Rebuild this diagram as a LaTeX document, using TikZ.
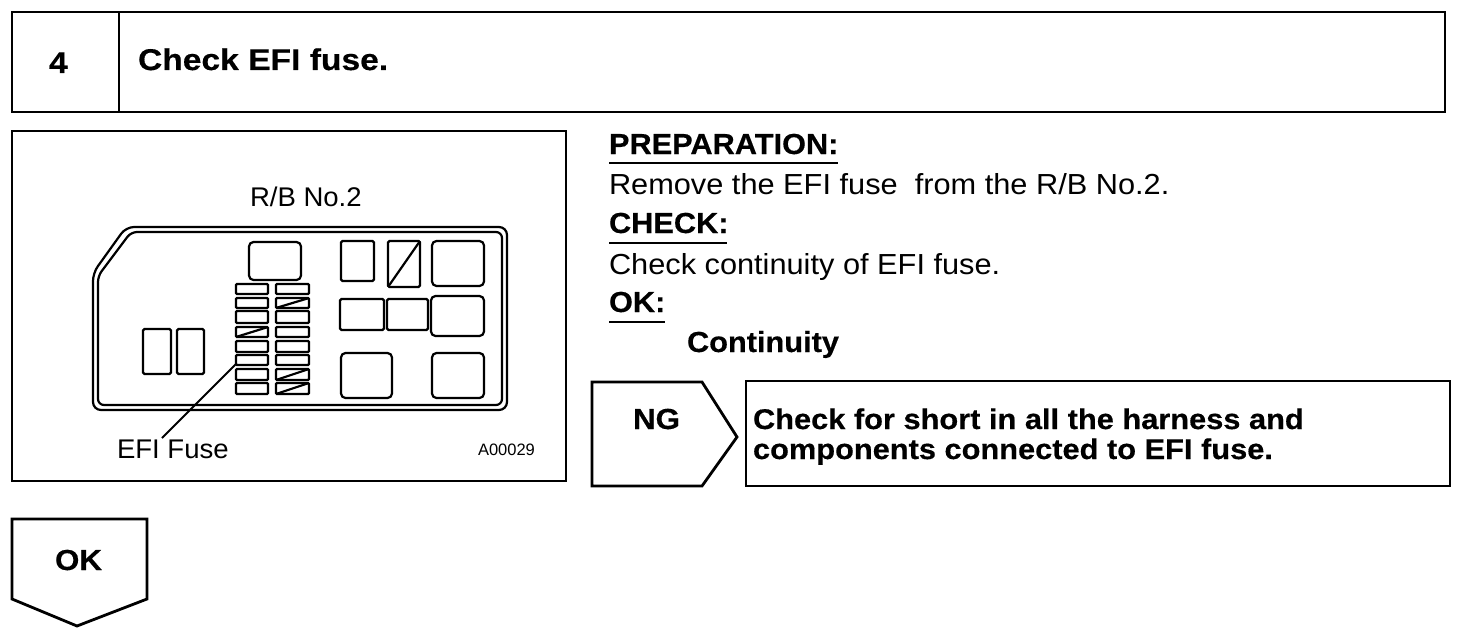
\documentclass[tikz,border=0pt]{standalone}
\usepackage{fontspec}
\setmainfont{Liberation Sans}
\newfontfamily\stA[FakeStretch=1.12,FakeBold=0.4]{Liberation Sans}
\newfontfamily\stB[FakeStretch=1.08,FakeBold=0.4]{Liberation Sans}
\newfontfamily\stC[FakeStretch=1.06,FakeBold=0.4]{Liberation Sans}
\newfontfamily\stD[FakeStretch=1.06]{Liberation Sans}
\newfontfamily\stE[FakeStretch=1.02]{Liberation Sans}
\newcommand{\fs}[1]{\fontsize{#1}{#1}\selectfont}
\tikzset{
  x=1pt,y=-1pt,
  frame/.style={draw=black,line width=2.8pt,fill=white,line join=miter},
  part/.style={draw=black,line width=2.2pt,rounded corners=1.5pt},
  roundpart/.style={draw=black,line width=2.2pt,rounded corners=4.5pt},
  fuseslot/.style={draw=black,line width=2.2pt,rounded corners=1pt},
  slash/.style={draw=black,line width=2.2pt},
  rule/.style={draw=black,line width=1.5pt},
  txt/.style={inner sep=0pt,outer sep=0pt,anchor=base west,text=black},
  head/.style={txt,font=\stA\fs{30}\bfseries},
  sub/.style={txt,font=\stC\fs{29}\bfseries},
  body/.style={txt,font=\stD\fs{29}},
  ngtext/.style={txt,font=\stB\fs{28.5}\bfseries},
  tag/.style={txt,font=\stB\fs{29}\bfseries},
  label/.style={txt,font=\stE\fs{27}},
}
\begin{document}
\begin{tikzpicture}
\useasboundingbox (0,0) rectangle (1472,634);
\fill[white] (0,0) rectangle (1472,634);
% header
\draw[frame] (12,12) rectangle (1445,112);
\draw[frame] (119,12) -- (119,112);
\node[head] (stepno) at (49,73) {4};
\node[head] (title) at (138,70) {Check EFI fuse.};
% figure frame
\draw[frame] (12,131) rectangle (566,481);
\node[label] (rb) at (250,206) {R/B No.2};
\node[label] (efi) at (117,458) {EFI Fuse};
\node[txt,font=\fs{16.5}] (code) at (478,455) {A00029};
% board outline
\draw[part,rounded corners=8pt] (126,227) -- (507,227) -- (507,410) -- (93,410) -- (93,273) -- cycle;
\draw[part,rounded corners=6pt] (131,232) -- (502,232) -- (502,405) -- (98,405) -- (98,276) -- cycle;
% big parts
\draw[roundpart] (249,242) rectangle (301,280);
\draw[part] (143,329) rectangle (171,374);
\draw[part] (177,329) rectangle (204,374);
\draw[part] (341,241) rectangle (374,281);
\draw[part] (388,241) rectangle (420,287);
\draw[slash] (388,287) -- (420,241);
\draw[roundpart] (432,241) rectangle (484,286);
\draw[part] (340,299) rectangle (384,330);
\draw[part] (387,299) rectangle (428,330);
\draw[roundpart] (431,296) rectangle (484,336);
\draw[roundpart] (341,353) rectangle (392,398);
\draw[roundpart] (432,353) rectangle (484,398);
% fuses
\foreach \a/\b in {284/294,298/308,311/323,327/337,341/352,355/365,369/380,383/394}{
  \draw[fuseslot] (236,\a) rectangle (268,\b);
  \draw[fuseslot] (276,\a) rectangle (309,\b);
}
\draw[slash] (236,337) -- (268,327);
\draw[slash] (276,308) -- (309,298);
\draw[slash] (276,380) -- (309,369);
\draw[slash] (276,394) -- (309,383);
% leader
\coordinate (fusetip) at (236,364);
\coordinate (labeltip) at (162,438);
\draw[slash,line width=1.8pt] (fusetip) -- (labeltip);
% text column
\node[sub] (prep) at (609,154) {PREPARATION:};
\draw[rule] (609,163) -- (838,163);
\node[body] (remove) at (609,194) {Remove the EFI fuse\ \ from the R/B No.2.};
\node[sub] (chk) at (609,233) {CHECK:};
\draw[rule] (609,243) -- (727,243);
\node[body] (cont) at (609,274) {Check continuity of EFI fuse.};
\node[sub] (okh) at (609,312) {OK:};
\draw[rule] (609,322) -- (665,322);
\node[sub] (conty) at (687,352) {Continuity};
% NG
\draw[frame] (592,382) -- (702,382) -- (737,437) -- (702,486) -- (592,486) -- cycle;
\node[tag] (ng) at (633,429) {NG};
\draw[frame] (746,381) rectangle (1450,486);
\node[ngtext] (ngl1) at (753,429) {Check for short in all the harness and};
\node[ngtext] (ngl2) at (753,459) {components connected to EFI fuse.};
% OK
\draw[frame] (12,519) -- (147,519) -- (147,599) -- (77,626) -- (12,599) -- cycle;
\node[tag] (ok) at (55,570) {OK};
\end{tikzpicture}
\end{document}
